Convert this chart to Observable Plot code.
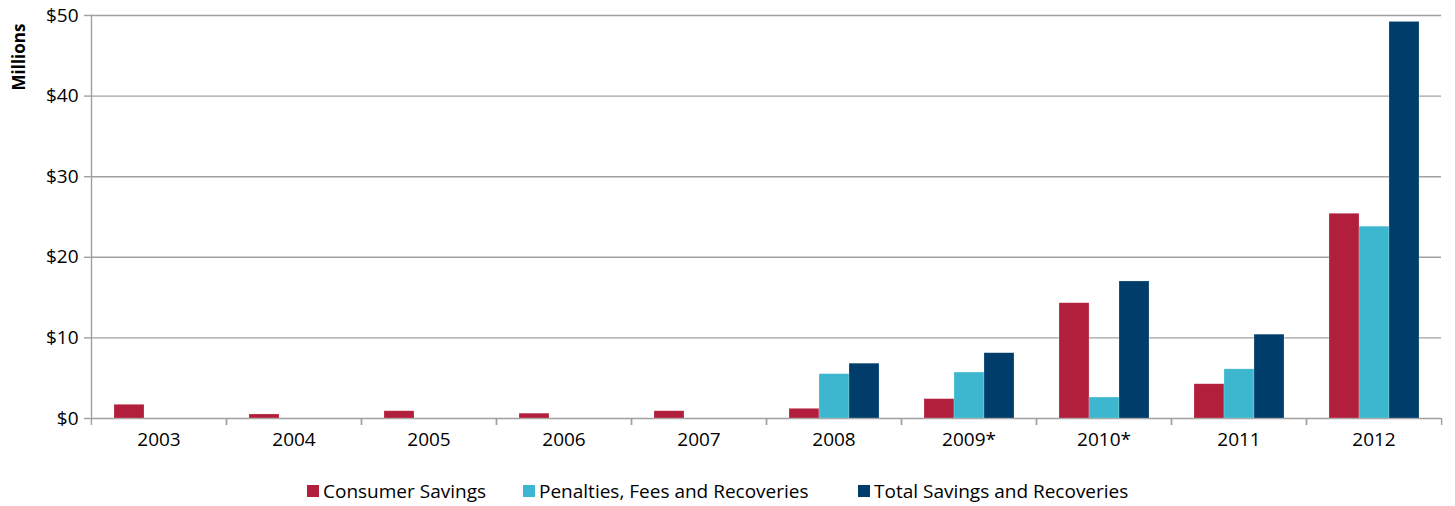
<!DOCTYPE html>
<html>
<head>
<meta charset="utf-8">
<script src="https://cdn.jsdelivr.net/npm/d3@7"></script>
<script src="https://cdn.jsdelivr.net/npm/@observablehq/plot@0.6"></script>
<style>
  body { margin: 0; background: #fff; font-family: "Open Sans", sans-serif; }
  #wrap { position: relative; width: 1455px; height: 506px; }
  #ylabel { position: absolute; left: 18px; top: 57px; transform: translate(-50%, -50%) rotate(-90deg); font-weight: bold; font-size: 17px; white-space: nowrap; color: #000; }
  #legend { position: absolute; top: 478px; left: 0; width: 1455px; height: 26px; font-size: 19px; color: #000; }
  .item { position: absolute; display: flex; align-items: center; white-space: nowrap; }
  .sw { width: 12px; height: 12px; margin-right: 4px; }
</style>
</head>
<body>
<div id="wrap">
  <div id="chart"></div>
  <div id="ylabel">Millions</div>
  <div id="legend"></div>
</div>
<script>
const years = ["2003", "2004", "2005", "2006", "2007", "2008", "2009*", "2010*", "2011", "2012"];
const seriesNames = ["Consumer Savings", "Penalties, Fees and Recoveries", "Total Savings and Recoveries"];
const seriesColors = ["#B21F3D", "#3DB7CF", "#003D6B"];
const consumerSavings = [1.7, 0.5, 0.9, 0.6, 0.9, 1.2, 2.4, 14.3, 4.25, 25.4];
const penaltiesFees = [0, 0, 0, 0, 0, 5.5, 5.7, 2.6, 6.1, 23.8];
const totalSavings = [0, 0, 0, 0, 0, 6.8, 8.1, 17.0, 10.4, 49.2];
const yTicks = [0, 10, 20, 30, 40, 50];
const legendLeft = [307, 523, 858];

const seriesValues = [consumerSavings, penaltiesFees, totalSavings];
const data = [];
years.forEach((y, i) => {
  seriesNames.forEach((s, j) => {
    data.push({year: y, series: s, value: seriesValues[j][i]});
  });
});

const W = 1455, H = 470, mL = 90, mR = 13, mT = 15, mB = 52;
const step = (W - mL - mR) / years.length;
const grid = "#a0a0a0";

const chart = Plot.plot({
  width: W,
  height: H,
  marginLeft: mL,
  marginRight: mR,
  marginTop: mT,
  marginBottom: mB,
  style: {fontFamily: "Open Sans, sans-serif", fontSize: "19px", color: "#000", background: "#fff"},
  fx: {domain: years, padding: 0, label: null},
  x: {domain: seriesNames, paddingInner: 0, paddingOuter: 0.75, axis: null},
  y: {domain: [0, 50], label: null},
  color: {domain: seriesNames, range: seriesColors},
  marks: [
    Plot.gridY(yTicks, {stroke: grid, strokeOpacity: 1, strokeWidth: 1.4}),
    Plot.barY(data.filter(d => d.value > 0), {fx: "year", x: "series", y: "value", fill: "series", stroke: "#ffffff", strokeOpacity: 0.35, strokeWidth: 0.6}),
    Plot.axisY(yTicks, {tickSize: 7, tickPadding: 6, stroke: grid, strokeWidth: 1.4, tickFormat: d => "$" + d, fontSize: 19, label: null}),
    Plot.frame({anchor: "left", facetAnchor: "left", stroke: grid, strokeWidth: 1.4}),
    Plot.axisFx({anchor: "bottom", tickSize: 0, tickPadding: 14, fontSize: 19, label: null}),
    Plot.axisFx({anchor: "bottom", tickSize: 7, tickFormat: () => "", dx: step / 2, stroke: grid, strokeWidth: 1.4, label: null}),
    Plot.axisFx({anchor: "bottom", tickSize: 7, tickFormat: () => "", dx: -step / 2, stroke: grid, strokeWidth: 1.4, label: null})
  ]
});
document.getElementById("chart").appendChild(chart);

const legend = document.getElementById("legend");
seriesNames.forEach((s, i) => {
  const item = document.createElement("div");
  item.className = "item";
  item.style.left = legendLeft[i] + "px";
  const sw = document.createElement("div");
  sw.className = "sw";
  sw.style.background = seriesColors[i];
  const t = document.createElement("span");
  t.textContent = s;
  item.appendChild(sw);
  item.appendChild(t);
  legend.appendChild(item);
});
</script>
</body>
</html>
